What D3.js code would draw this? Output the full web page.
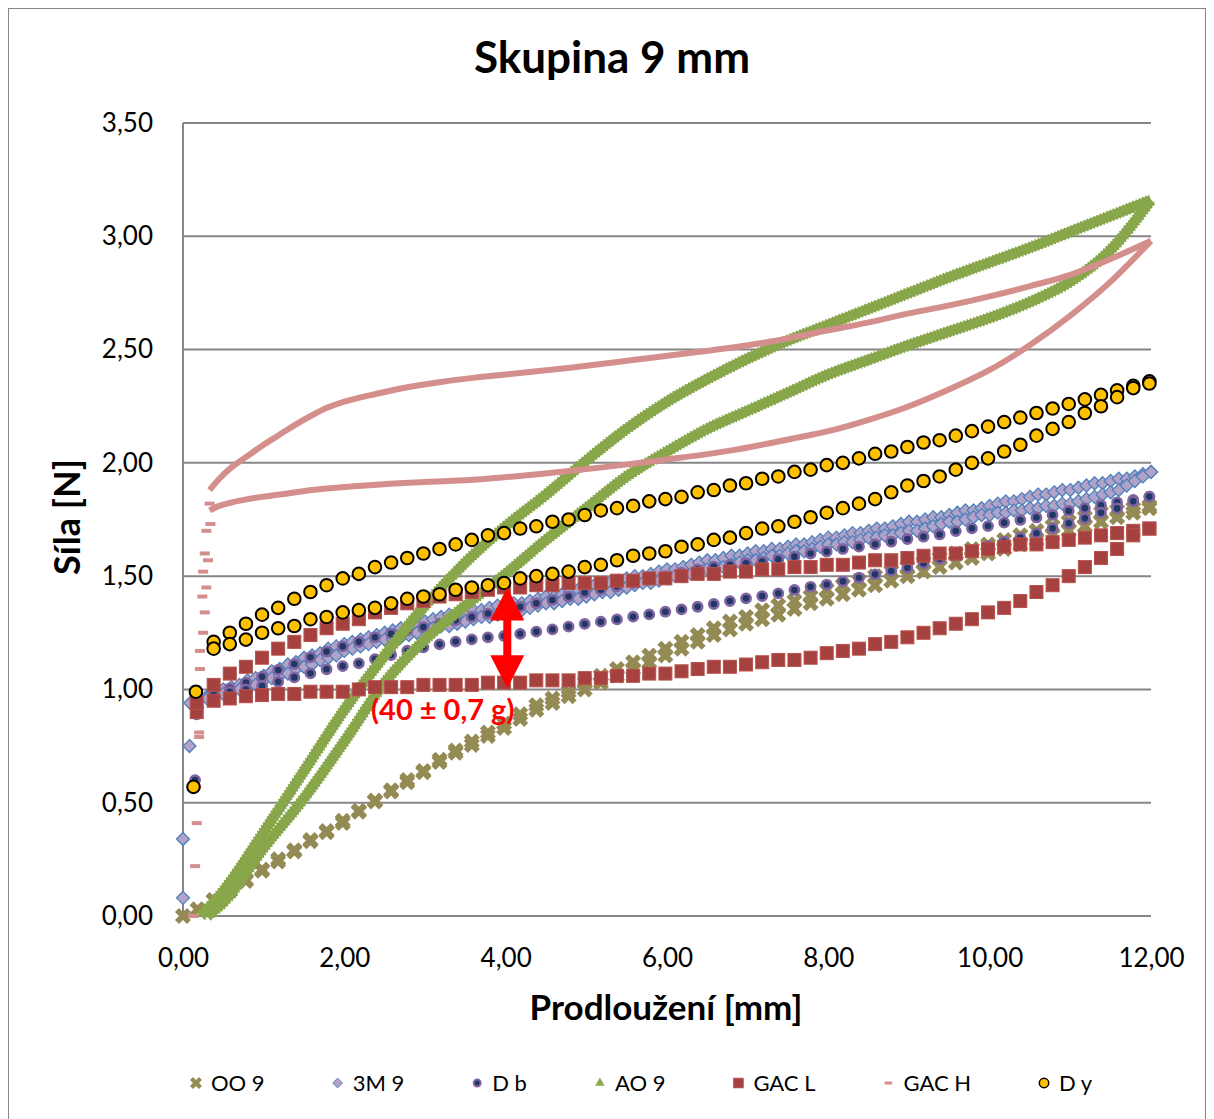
<!DOCTYPE html>
<html lang="cs">
<head>
<meta charset="utf-8">
<title>Skupina 9 mm</title>
<script src="https://cdn.jsdelivr.net/npm/d3@7"></script>
<style>
  body { margin: 0; background: #fff; }
  text { font-family: Lato, "Open Sans", sans-serif; }
</style>
</head>
<body>
<script>
// --- data ---
var xGrid = [0.38,0.58,0.78,0.98,1.18,1.38,1.58,1.78,1.98,2.18,2.38,2.58,2.78,2.98,3.18,3.38,3.58,3.78,3.98,4.18,
  4.38,4.58,4.78,4.98,5.18,5.38,5.58,5.78,5.98,6.18,6.38,6.58,6.78,6.98,7.18,7.38,7.58,7.78,7.98,8.18,
  8.38,8.58,8.78,8.98,9.18,9.38,9.58,9.78,9.98,10.18,10.38,10.58,10.78,10.98,11.18,11.38,11.58,11.78,11.98];

var xFine = [0.3,0.4,0.5,0.6,0.7,0.8,0.9,1.0,1.1,1.2,1.3,1.4,1.5,1.6,1.7,1.8,1.9,2.0,2.1,2.2,
  2.3,2.4,2.5,2.6,2.7,2.8,2.9,3.0,3.1,3.2,3.3,3.4,3.5,3.6,3.7,3.8,3.9,4.0,4.1,4.2,
  4.3,4.4,4.5,4.6,4.7,4.8,4.9,5.0,5.1,5.2,5.3,5.4,5.5,5.6,5.7,5.8,5.9,6.0,6.1,6.2,
  6.3,6.4,6.5,6.6,6.7,6.8,6.9,7.0,7.1,7.2,7.3,7.4,7.5,7.6,7.7,7.8,7.9,8.0,8.1,8.2,
  8.3,8.4,8.5,8.6,8.7,8.8,8.9,9.0,9.1,9.2,9.3,9.4,9.5,9.6,9.7,9.8,9.9,10.0,10.1,10.2,
  10.3,10.4,10.5,10.6,10.7,10.8,10.9,11.0,11.1,11.2,11.3,11.4,11.5,11.6,11.7,11.8,11.9,12.0];

// OO 9
var oo9Start = [[0.0,0.0],[0.18,0.03]];
var oo9Load = [0.07,0.11,0.155,0.20,0.24,0.285,0.33,0.37,0.41,0.46,0.505,0.55,0.59,0.635,0.68,0.72,0.755,0.795,0.83,0.87,
  0.91,0.94,0.97,1.00,1.03,1.06,1.09,1.12,1.15,1.18,1.21,1.24,1.265,1.29,1.31,1.33,1.355,1.38,1.40,1.42,
  1.44,1.46,1.48,1.50,1.52,1.54,1.56,1.58,1.60,1.62,1.64,1.66,1.68,1.70,1.72,1.74,1.76,1.78,1.80];
var oo9Unload = [0.07,0.115,0.16,0.205,0.25,0.29,0.335,0.375,0.42,0.465,0.51,0.555,0.60,0.64,0.69,0.73,0.77,0.81,0.85,0.89,
  0.93,0.96,0.99,1.03,1.06,1.09,1.12,1.15,1.18,1.21,1.24,1.27,1.30,1.32,1.35,1.37,1.39,1.41,1.44,1.46,
  1.48,1.50,1.52,1.54,1.56,1.58,1.60,1.62,1.64,1.66,1.68,1.70,1.72,1.74,1.76,1.78,1.79,1.80,1.81];

// 3M 9
var m3Start = [[0.0,0.08],[0.0,0.34],[0.08,0.75],[0.09,0.94]];
var m3Load = [0.97,0.98,1.00,1.01,1.02,1.04,1.05,1.06,1.08,1.09,1.11,1.12,1.14,1.15,1.16,1.18,1.19,1.20,1.21,1.22,
  1.23,1.24,1.25,1.26,1.27,1.28,1.29,1.30,1.31,1.32,1.33,1.33,1.34,1.35,1.35,1.36,1.37,1.37,1.38,1.38,
  1.39,1.40,1.41,1.41,1.42,1.43,1.44,1.45,1.46,1.47,1.47,1.48,1.49,1.50,1.50,1.51,1.52,1.53,1.53,1.54,
  1.55,1.56,1.57,1.57,1.58,1.59,1.59,1.60,1.61,1.61,1.62,1.62,1.63,1.64,1.64,1.65,1.66,1.67,1.67,1.68,
  1.69,1.69,1.70,1.71,1.71,1.72,1.73,1.74,1.74,1.75,1.76,1.76,1.77,1.78,1.79,1.79,1.80,1.81,1.82,1.83,
  1.83,1.84,1.85,1.86,1.86,1.87,1.88,1.88,1.89,1.90,1.91,1.91,1.92,1.93,1.93,1.94,1.95,1.96];
var m3Unload = [0.96,0.97,0.98,0.99,1.00,1.01,1.02,1.04,1.05,1.06,1.07,1.09,1.10,1.11,1.13,1.14,1.15,1.17,1.18,1.19,
  1.20,1.21,1.22,1.22,1.23,1.24,1.25,1.26,1.27,1.28,1.28,1.29,1.30,1.31,1.32,1.32,1.33,1.34,1.35,1.35,
  1.36,1.37,1.38,1.38,1.39,1.40,1.40,1.41,1.42,1.43,1.43,1.44,1.45,1.46,1.47,1.47,1.48,1.49,1.50,1.50,
  1.51,1.52,1.53,1.53,1.54,1.55,1.56,1.57,1.57,1.58,1.59,1.59,1.60,1.61,1.61,1.62,1.63,1.64,1.64,1.65,
  1.65,1.66,1.67,1.67,1.68,1.68,1.69,1.70,1.70,1.71,1.72,1.73,1.74,1.74,1.75,1.76,1.77,1.77,1.78,1.78,
  1.79,1.79,1.80,1.80,1.81,1.81,1.82,1.82,1.83,1.84,1.85,1.86,1.87,1.88,1.90,1.92,1.94,1.96];

// D b
var dbStart = [[0.15,0.60],[0.17,0.89]];
var dbLoad = [0.98,1.005,1.03,1.056,1.086,1.112,1.142,1.167,1.19,1.21,1.23,1.245,1.26,1.275,1.29,1.305,1.32,1.335,1.35,1.365,
  1.38,1.395,1.41,1.428,1.44,1.455,1.47,1.485,1.50,1.515,1.53,1.542,1.55,1.557,1.564,1.574,1.586,1.60,1.608,1.62,
  1.63,1.641,1.652,1.664,1.674,1.684,1.699,1.711,1.721,1.736,1.748,1.759,1.77,1.788,1.80,1.813,1.826,1.836,1.851];
var dbUnload = [0.98,0.99,1.00,1.015,1.034,1.053,1.071,1.089,1.103,1.115,1.134,1.152,1.171,1.186,1.199,1.211,1.221,1.23,1.236,1.245,
  1.255,1.265,1.277,1.289,1.299,1.309,1.321,1.331,1.343,1.353,1.365,1.377,1.39,1.402,1.412,1.424,1.439,1.453,1.463,1.477,
  1.493,1.508,1.523,1.537,1.556,1.576,1.593,1.611,1.633,1.652,1.67,1.689,1.711,1.733,1.755,1.78,1.799,1.83,1.851];

// AO 9 (very dense points, read as a curve)
var ao9Load = [[0.22,0.0],[0.5,0.11],[1.0,0.37],[1.5,0.64],[2.0,0.91],[2.5,1.15],[3.0,1.37],[3.5,1.56],[4.0,1.72],
  [4.5,1.86],[5.0,2.01],[5.5,2.15],[6.0,2.27],[6.5,2.37],[7.0,2.46],[7.5,2.54],[8.0,2.61],[8.5,2.68],[9.0,2.75],
  [9.5,2.82],[10.0,2.885],[10.5,2.95],[11.0,3.02],[11.5,3.09],[12.0,3.16]];
var ao9Unload = [[0.3,0.0],[0.5,0.06],[1.0,0.30],[1.5,0.52],[2.0,0.77],[2.5,1.03],[3.0,1.22],[3.5,1.37],[4.0,1.51],
  [4.5,1.66],[5.0,1.80],[5.5,1.94],[6.0,2.05],[6.5,2.15],[7.0,2.23],[7.5,2.31],[8.0,2.39],[8.5,2.455],[9.0,2.52],
  [9.5,2.58],[10.0,2.64],[10.5,2.71],[11.0,2.80],[11.5,2.94],[12.0,3.16]];

// GAC L
var gaclStart = [[0.17,0.90],[0.17,0.94]];
var gaclLoad = [1.02,1.07,1.10,1.14,1.18,1.21,1.24,1.27,1.29,1.31,1.34,1.36,1.38,1.39,1.41,1.42,1.43,1.44,1.45,1.45,
  1.46,1.46,1.47,1.47,1.47,1.48,1.48,1.49,1.49,1.50,1.51,1.51,1.52,1.52,1.53,1.53,1.54,1.54,1.55,1.55,
  1.56,1.57,1.57,1.58,1.59,1.60,1.60,1.61,1.62,1.63,1.64,1.64,1.65,1.66,1.67,1.68,1.69,1.70,1.71];
var gaclUnload = [0.95,0.96,0.97,0.975,0.98,0.98,0.99,0.99,0.99,1.00,1.01,1.01,1.01,1.02,1.02,1.02,1.02,1.03,1.03,1.03,
  1.04,1.04,1.04,1.05,1.05,1.06,1.06,1.07,1.07,1.08,1.09,1.10,1.10,1.11,1.12,1.13,1.13,1.14,1.16,1.17,
  1.18,1.20,1.21,1.23,1.25,1.27,1.29,1.31,1.34,1.36,1.39,1.43,1.46,1.50,1.54,1.58,1.62,1.68,1.71];

// GAC H
var gachRise = [[0.13,0.00],[0.15,0.22],[0.17,0.41],[0.16,0.57],[0.20,0.79],[0.20,0.81],[0.21,1.09],[0.21,1.17],
  [0.25,1.25],[0.27,1.34],[0.24,1.41],[0.29,1.45],[0.25,1.52],[0.31,1.57],[0.27,1.60],[0.29,1.70],[0.34,1.73],[0.33,1.82]];
var gachLoad = [[0.33,1.88],[0.45,1.93],[0.6,1.98],[0.8,2.03],[1.0,2.08],[1.2,2.125],[1.4,2.17],[1.6,2.21],[1.8,2.245],
  [2.0,2.27],[2.4,2.305],[2.8,2.335],[3.2,2.357],[3.6,2.375],[4.0,2.39],[4.8,2.42],[5.6,2.455],[6.4,2.49],[7.2,2.53],
  [8.0,2.585],[8.5,2.62],[9.0,2.66],[9.5,2.695],[10.0,2.735],[10.5,2.78],[11.0,2.83],[11.5,2.90],[12.0,2.98]];
var gachUnload = [[0.33,1.79],[0.45,1.81],[0.6,1.825],[0.8,1.84],[1.2,1.86],[1.6,1.88],[2.0,1.893],[2.8,1.912],
  [3.6,1.925],[4.4,1.95],[5.2,1.98],[6.0,2.015],[6.8,2.055],[7.6,2.11],[8.0,2.14],[8.5,2.19],[9.0,2.25],[9.5,2.325],
  [10.0,2.41],[10.5,2.52],[11.0,2.65],[11.5,2.80],[12.0,2.98]];

// D y
var dyStart = [[0.13,0.57],[0.16,0.99]];
var dyLoad = [1.21,1.25,1.29,1.33,1.36,1.40,1.43,1.46,1.49,1.51,1.54,1.56,1.58,1.60,1.62,1.64,1.66,1.68,1.69,1.71,
  1.72,1.74,1.75,1.77,1.79,1.80,1.81,1.83,1.84,1.85,1.87,1.88,1.90,1.91,1.93,1.94,1.96,1.97,1.99,2.00,
  2.02,2.04,2.05,2.07,2.09,2.10,2.12,2.14,2.16,2.18,2.20,2.22,2.24,2.26,2.28,2.30,2.32,2.34,2.36];
var dyUnload = [1.18,1.20,1.22,1.25,1.27,1.28,1.31,1.32,1.34,1.35,1.36,1.38,1.40,1.41,1.42,1.44,1.45,1.46,1.47,1.49,
  1.50,1.51,1.52,1.54,1.55,1.57,1.59,1.60,1.61,1.63,1.64,1.66,1.67,1.69,1.71,1.72,1.74,1.76,1.78,1.80,
  1.82,1.84,1.87,1.90,1.92,1.94,1.97,2.00,2.02,2.05,2.08,2.12,2.15,2.18,2.22,2.25,2.29,2.33,2.35];

var seriesNames = ["OO 9", "3M 9", "D b", "AO 9", "GAC L", "GAC H", "D y"];
var yTicks = [0, 0.5, 1, 1.5, 2, 2.5, 3, 3.5];
var xTicks = [0, 2, 4, 6, 8, 10, 12];
var arrowX = 4.02, arrowFrom = 1.45, arrowTo = 1.005;
var noteText = "(40 ± 0,7 g)", noteX = 3.22, noteY = 0.865;

// --- chart ---
var width = 1214, height = 1119;
var svg = d3.select("body").append("svg")
    .attr("width", width)
    .attr("height", height);

svg.append("rect")
    .attr("x", 8.5).attr("y", 8.5)
    .attr("width", 1197).attr("height", 1125)
    .attr("fill", "#fff")
    .attr("stroke", "#868686");

var x = d3.scaleLinear().domain([0, 12]).range([183, 1151]);
var y = d3.scaleLinear().domain([0, 3.5]).range([916, 123]);

var cz = d3.formatLocale({decimal: ",", thousands: " ", grouping: [3], currency: ["", ""]});
var fmt = cz.format(".2f");

// gridlines
svg.append("g").selectAll("line")
    .data(yTicks)
    .enter().append("line")
    .attr("x1", x(0)).attr("x2", x(12))
    .attr("y1", d => y(d)).attr("y2", d => y(d))
    .attr("stroke", "#868686")
    .attr("stroke-width", 2);
svg.append("line")
    .attr("x1", x(0)).attr("x2", x(0))
    .attr("y1", y(0)).attr("y2", y(3.5))
    .attr("stroke", "#868686")
    .attr("stroke-width", 2);

var yAxis = svg.append("g")
    .attr("transform", "translate(" + x(0) + ",0)")
    .call(d3.axisLeft(y).tickValues(yTicks).tickFormat(fmt).tickSize(0).tickPadding(30));
var xAxis = svg.append("g")
    .attr("transform", "translate(0," + y(0) + ")")
    .call(d3.axisBottom(x).tickValues(xTicks).tickFormat(fmt).tickSize(0).tickPadding(33));
[yAxis, xAxis].forEach(function(a) {
    a.select(".domain").remove();
    a.selectAll("text")
        .attr("font-family", "Lato, sans-serif")
        .attr("font-size", 26)
        .attr("fill", "#000");
});

// title + axis titles
svg.append("text")
    .attr("x", 612).attr("y", 73)
    .attr("text-anchor", "middle")
    .attr("font-size", 44)
    .attr("font-weight", "bold")
    .text("Skupina 9 mm");
svg.append("text")
    .attr("x", 666).attr("y", 1020)
    .attr("text-anchor", "middle")
    .attr("font-size", 35)
    .attr("font-weight", "bold")
    .text("Prodloužení [mm]");
svg.append("text")
    .attr("transform", "translate(80,517) rotate(-90)")
    .attr("text-anchor", "middle")
    .attr("font-size", 36)
    .attr("font-weight", "bold")
    .text("Síla [N]");

// helpers
function zip(xs, ys) { return xs.map(function(v, i) { return [v, ys[i]]; }); }

var markers = {
    oo9: function(g) {
        g.append("path").attr("d", d3.symbol(d3.symbolCross, 160)())
            .attr("transform", "rotate(45)")
            .attr("fill", "#948A54");
    },
    m3: function(g) {
        g.append("path").attr("d", "M0,-6.5L6.5,0L0,6.5L-6.5,0Z")
            .attr("fill", "#B3A2C7").attr("stroke", "#4F81BD").attr("stroke-width", 1.3);
    },
    db: function(g) {
        g.append("circle").attr("r", 4.6)
            .attr("fill", "#1F3864").attr("stroke", "#8064A2").attr("stroke-width", 2.6);
    },
    ao9: function(g) {
        g.append("path").attr("d", d3.symbol(d3.symbolTriangle, 70)())
            .attr("fill", "#8CAA4E");
    },
    gacl: function(g) {
        g.append("rect").attr("x", -6.5).attr("y", -6.5).attr("width", 13).attr("height", 13)
            .attr("fill", "#A5423F").attr("stroke", "#B9514D").attr("stroke-width", 1);
    },
    gach: function(g) {
        g.append("rect").attr("x", -5).attr("y", -2).attr("width", 10).attr("height", 4)
            .attr("fill", "#D48E8C");
    },
    dy: function(g) {
        g.append("circle").attr("r", 6.3)
            .attr("fill", "#FFC000").attr("stroke", "#000").attr("stroke-width", 2);
    }
};

function drawPoints(cls, pts, marker) {
    svg.append("g").attr("class", cls)
        .selectAll("g")
        .data(pts)
        .enter().append("g")
        .attr("transform", d => "translate(" + x(d[0]) + "," + y(d[1]) + ")")
        .each(function() { marker(d3.select(this)); });
}

var curve = d3.line().x(d => x(d[0])).y(d => y(d[1])).curve(d3.curveMonotoneX);

// OO 9
drawPoints("oo9", oo9Start.concat(zip(xGrid, oo9Load), zip(xGrid, oo9Unload)), markers.oo9);
// 3M 9
drawPoints("m3", m3Start.concat(zip(xFine, m3Load), zip(xFine, m3Unload)), markers.m3);
// D b
drawPoints("db", dbStart.concat(zip(xGrid, dbLoad), zip(xGrid, dbUnload)), markers.db);
// AO 9: dense triangles drawn as a thick band with a toothed edge
[ao9Load, ao9Unload].forEach(function(branch) {
    svg.append("path").datum(branch)
        .attr("d", curve)
        .attr("fill", "none")
        .attr("stroke", "#8AA84C")
        .attr("stroke-width", 10);
    svg.append("path").datum(branch)
        .attr("d", curve)
        .attr("fill", "none")
        .attr("stroke", "#86A448")
        .attr("stroke-width", 12)
        .attr("stroke-dasharray", "1.5 2");
});
// GAC L
drawPoints("gacl", gaclStart.concat(zip(xGrid, gaclLoad), zip(xGrid, gaclUnload)), markers.gacl);
// GAC H
[gachLoad, gachUnload].forEach(function(branch) {
    svg.append("path").datum(branch)
        .attr("d", curve)
        .attr("fill", "none")
        .attr("stroke", "#D48E8C")
        .attr("stroke-width", 6);
});
drawPoints("gach", gachRise, markers.gach);
// D y
drawPoints("dy", dyStart.concat(zip(xGrid, dyLoad), zip(xGrid, dyUnload)), markers.dy);

// annotation arrow
var ax = x(arrowX), ay1 = y(arrowFrom), ay2 = y(arrowTo);
svg.append("line")
    .attr("x1", ax).attr("x2", ax)
    .attr("y1", ay1 + 20).attr("y2", ay2 - 20)
    .attr("stroke", "#FF0000").attr("stroke-width", 8);
svg.append("path")
    .attr("d", "M" + ax + "," + ay1 + "l17,33h-34z")
    .attr("fill", "#FF0000");
svg.append("path")
    .attr("d", "M" + ax + "," + ay2 + "l17,-33h-34z")
    .attr("fill", "#FF0000");
svg.append("text")
    .attr("x", x(noteX)).attr("y", y(noteY))
    .attr("text-anchor", "middle")
    .attr("font-size", 29)
    .attr("font-weight", "bold")
    .attr("fill", "#FF0000")
    .text(noteText);

// legend
var legendKeys = ["oo9", "m3", "db", "ao9", "gacl", "gach", "dy"];
var lg = svg.append("g").attr("transform", "translate(196,1083)");
var lx = 0;
seriesNames.forEach(function(name, i) {
    var item = lg.append("g").attr("transform", "translate(" + lx + ",0)");
    var m = item.append("g").attr("transform", "scale(0.75)");
    markers[legendKeys[i]](m);
    var t = item.append("text")
        .attr("x", 15).attr("y", 8)
        .attr("font-size", 22)
        .text(name);
    lx += 15 + t.node().getComputedTextLength() + 73;
});
</script>
</body>
</html>
